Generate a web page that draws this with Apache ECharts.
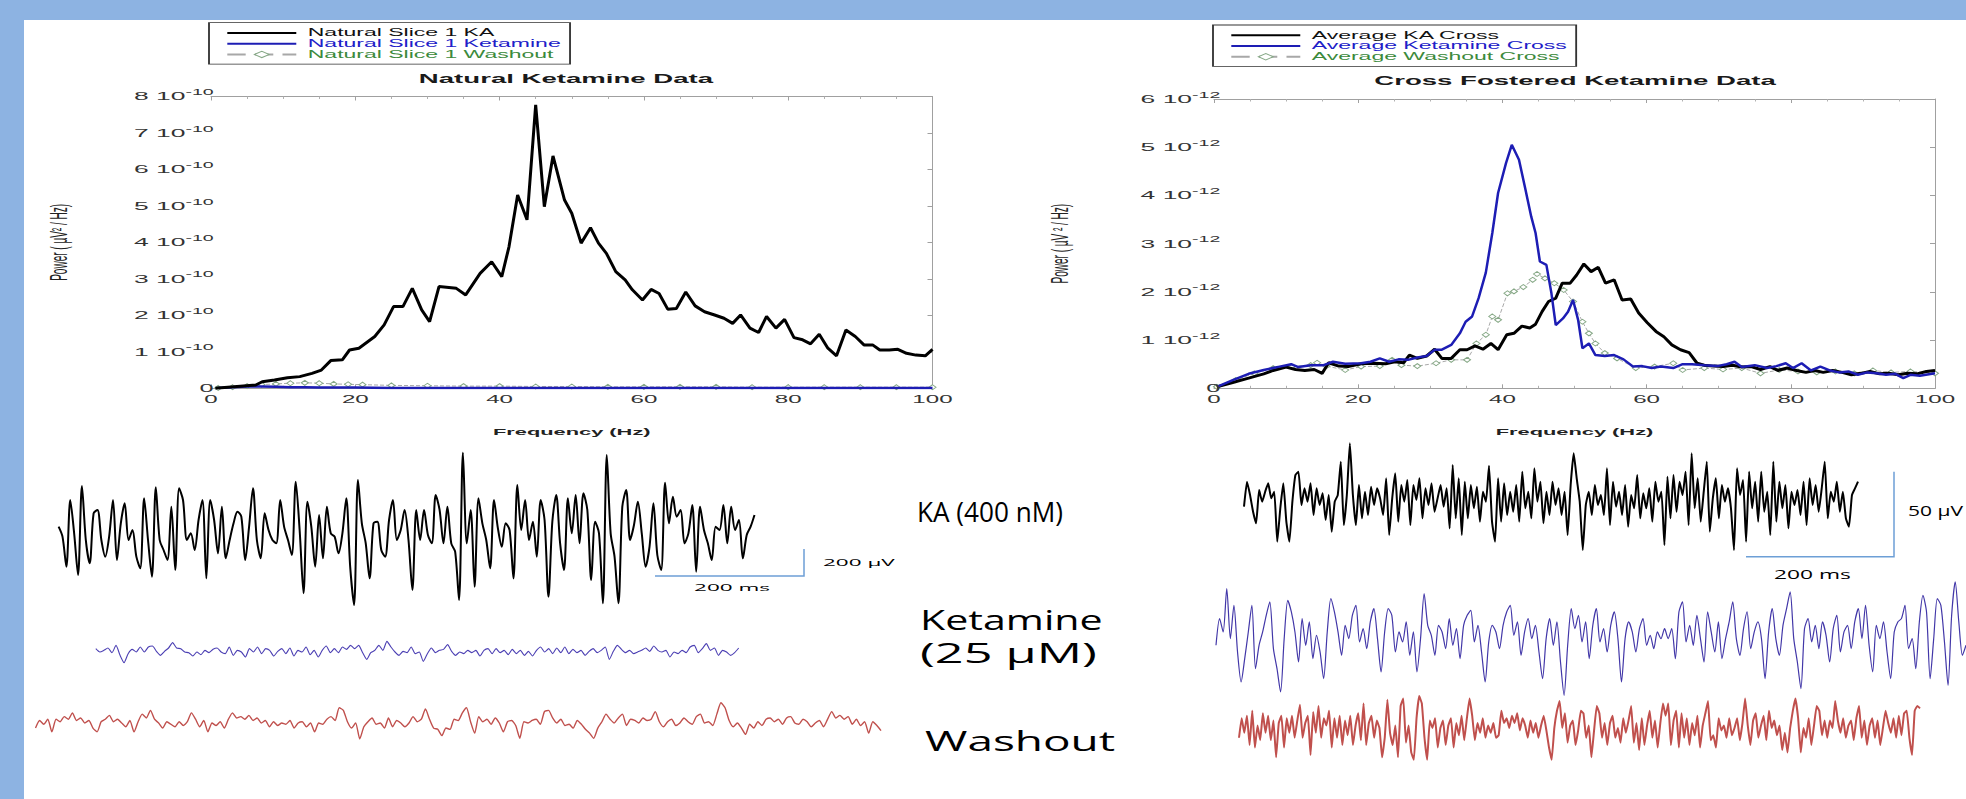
<!DOCTYPE html>
<html><head><meta charset="utf-8">
<script src="https://cdn.jsdelivr.net/npm/echarts@6/dist/echarts.min.js"></script>
<style>
html,body{margin:0;padding:0;width:1966px;height:799px;overflow:hidden;background:#fff}
#base{position:absolute;left:0;top:0;width:1966px;height:799px}
#txt{position:absolute;left:0;top:0;width:855px;height:799px;transform-origin:0 0;pointer-events:none}
</style></head><body>
<div id="base"></div><div id="txt"></div>
<script>
// ---------------- DATA ----------------
// Left spectrum: "Natural Ketamine Data" (power in units of 1e-10 uV^2/Hz)
const leftKAFreq = [0.6,3.6,6.2,7.1,8.8,10.6,12.3,14,15.3,16.6,18.2,19.2,20.5,22.7,24,25.3,26.6,27.9,29.2,30.3,31.6,34,35.3,37.3,38.9,40.3,41.3,42.5,43.8,45,46.2,47.4,49,50,51.3,52.6,53.7,54.8,56.1,57.4,58.4,59.8,61,62.1,63.3,64.5,65.8,67.1,68.4,69.8,71.1,72.3,73.4,74.7,75.9,77,78.3,79.5,80.8,82,83.1,84.3,85.5,86.7,88,89.3,90.5,91.7,92.7,94,95.2,96.4,97.7,99,100];
const leftKA = [0,0.05,0.09,0.18,0.23,0.29,0.32,0.41,0.5,0.76,0.78,1.05,1.1,1.42,1.74,2.24,2.24,2.74,2.15,1.83,2.79,2.74,2.56,3.15,3.47,3.06,3.88,5.3,4.62,7.77,4.98,6.37,5.16,4.8,3.98,4.4,3.98,3.7,3.2,2.97,2.7,2.42,2.71,2.6,2.17,2.19,2.64,2.26,2.1,2.01,1.92,1.78,2.01,1.65,1.53,1.97,1.65,1.89,1.39,1.33,1.22,1.48,1.1,0.89,1.6,1.42,1.19,1.19,1.05,1.05,1.07,0.96,0.91,0.89,1.07];
const leftKetFreq = [1,3,5,7,9,11,13,15,20,25,30,40,50,60,70,80,90,100];
const leftKet = [0.01,0.03,0.05,0.05,0.04,0.03,0.03,0.02,0.02,0.01,0.01,0.01,0.01,0.005,0.005,0.005,0.005,0.005];
const leftWashFreq = [1,3,5,7,9,11,13,15,17,19,21,25,30,35,40,45,50,55,60,65,70,75,80,85,90,95,100];
const leftWash = [0.01,0.03,0.06,0.1,0.12,0.14,0.15,0.14,0.12,0.11,0.1,0.08,0.07,0.06,0.06,0.05,0.05,0.04,0.04,0.04,0.04,0.03,0.03,0.03,0.03,0.03,0.03];

// Right spectrum: "Cross Fostered Ketamine Data" (power in units of 1e-12 uV^2/Hz)
const rightKAFreq = [0.4,2.6,4.8,6.9,8.2,10,11.3,12.6,13.9,15,15.9,17.3,18.6,20.4,22.1,23.8,25.1,26.3,27.1,28.2,29.5,30.6,31.6,32.9,34.1,35.1,36.2,37.3,38.4,39.4,40.6,41.6,42.7,43.8,44.6,45.5,46.4,47.4,48.3,49.4,50.3,51.3,52.3,53.3,54.3,55.5,56.6,57.8,58.9,60.1,61.3,62.4,63.5,64.7,65.9,67,68,69.3,70.6,71.9,73.2,74.5,75.8,77.1,78.2,79.5,80.8,82.1,83.3,84.5,85.8,87.1,88.4,89.7,91,92.3,93.6,94.9,96.2,97.5,98.8,100];
const rightKA = [0.03,0.12,0.21,0.3,0.37,0.44,0.39,0.37,0.39,0.31,0.53,0.46,0.45,0.51,0.52,0.51,0.55,0.53,0.69,0.62,0.67,0.81,0.62,0.62,0.8,0.8,0.88,0.81,0.93,0.8,1.11,1.14,1.29,1.25,1.33,1.59,1.8,1.87,2.18,2.18,2.35,2.58,2.42,2.51,2.18,2.25,1.83,1.85,1.56,1.36,1.18,1.07,0.9,0.8,0.74,0.52,0.48,0.46,0.45,0.48,0.44,0.45,0.39,0.45,0.37,0.42,0.37,0.33,0.37,0.33,0.37,0.33,0.28,0.31,0.35,0.3,0.31,0.28,0.31,0.3,0.35,0.37];
const rightKetFreq = [0.4,2.6,4.8,6.9,9.1,10.7,11.7,13.4,15.2,16.5,18.2,20.4,21.7,23,24.3,25.6,26.9,28.2,29.5,30.6,31.6,32.9,34.1,34.9,35.8,36.7,37.7,38.6,39.4,40.5,41.3,42.3,43.1,44,44.6,45.2,46.1,46.8,47.4,48.4,49.1,49.8,50.5,51.1,52,52.9,54.2,55.5,56.8,58.1,59.4,60.7,62,63.7,65,66.3,68,69.8,71.1,72.2,73.2,75,76.7,78,79.3,80.3,81.5,82.8,84.1,85.4,86.7,88,89.3,90.6,91.9,93.2,94.5,95.6,96.6,97.9,100];
const rightKet = [0.03,0.17,0.3,0.38,0.45,0.5,0.44,0.48,0.48,0.55,0.51,0.52,0.55,0.62,0.55,0.6,0.59,0.64,0.67,0.8,0.8,0.9,1.14,1.38,1.49,1.87,2.4,3.22,4.05,4.67,5.05,4.74,4.19,3.56,3.22,2.63,2.56,1.97,1.31,1.45,1.59,1.83,1.42,0.83,0.93,0.69,0.67,0.69,0.6,0.45,0.46,0.42,0.45,0.42,0.5,0.5,0.48,0.46,0.5,0.55,0.44,0.48,0.42,0.46,0.52,0.42,0.52,0.37,0.45,0.37,0.33,0.35,0.28,0.33,0.31,0.28,0.3,0.21,0.28,0.26,0.31];
const rightWashFreq = [0.4,3,5.6,8.2,10.8,13.4,14.3,15.6,18.2,20.4,23,24.7,26,28.2,30.8,32.9,35.1,36.4,37.7,38.6,39.4,40.7,41.6,42.9,44.2,44.8,45.9,47.2,48.5,49.8,51.1,52,52.9,54.2,55.9,58.5,61.1,63.7,65,68,70.6,73.2,75.8,78.4,81,83.6,86.2,88.8,91.4,93.9,96.6,100];
const rightWash = [0.03,0.17,0.31,0.42,0.45,0.48,0.53,0.46,0.38,0.45,0.46,0.59,0.48,0.46,0.52,0.59,0.59,0.93,1.11,1.49,1.42,1.97,2.01,2.1,2.25,2.37,2.28,2.18,2.04,1.8,1.38,1.14,0.93,0.73,0.62,0.42,0.45,0.52,0.38,0.42,0.39,0.42,0.31,0.38,0.35,0.33,0.35,0.31,0.37,0.33,0.35,0.31];

// Tick labels
const freqTicks = [0, 20, 40, 60, 80, 100];
const leftPowerTicks = [0, 1, 2, 3, 4, 5, 6, 7, 8];   // x 1e-10
const rightPowerTicks = [0, 1, 2, 3, 4, 5, 6];        // x 1e-12

const kaLeftTrace = [10,-20,-110,90,-10,-135,132,-30,-100,50,60,-30,-80,-20,90,-90,20,80,-30,0,-80,-115,95,-30,-140,128,-30,-60,-90,70,-120,125,90,-30,-10,-60,30,90,-145,90,30,-70,70,-85,-30,20,55,40,-90,10,125,-30,-85,50,0,-30,-40,90,10,-30,-75,145,0,-190,85,10,-110,45,-85,70,-10,-20,-70,-10,95,-110,-225,150,20,-40,-145,20,25,-60,-80,30,90,-30,0,60,-30,-180,60,-30,60,-15,-40,105,60,-40,70,-40,-65,-210,232,-40,60,-170,95,20,-30,-115,90,5,-50,20,0,-145,135,0,90,-30,25,-80,90,30,-200,25,105,-40,-120,95,-10,105,-40,110,60,-150,25,-10,-220,225,-10,-80,-220,70,120,-30,15,85,-10,-110,-50,80,-75,-120,142,20,100,40,60,-40,-10,75,-125,70,0,-40,-90,10,0,75,-40,70,0,30,-85,-15,10,45];
const ketLeftTrace = [10,0,5,12,-2,20,-10,-32,-5,8,0,15,0,15,18,2,-10,2,12,28,12,10,0,-2,-12,0,-8,5,-2,8,12,0,-5,15,-10,5,0,-15,10,0,15,-5,10,5,-12,2,10,-5,12,-12,5,0,15,-8,5,-15,5,18,-2,10,-2,15,8,20,10,20,-2,-22,-2,5,20,5,32,15,0,-10,2,-2,15,-5,0,-28,-5,12,-2,5,8,22,2,-10,0,-5,5,-2,5,-12,5,10,-5,10,-2,5,-8,8,-5,5,-10,2,-12,5,15,0,10,-5,12,-2,15,-5,8,-2,5,-10,2,10,-2,5,15,-22,2,20,8,-2,5,-5,0,5,12,2,18,5,0,5,-15,0,-5,5,-2,15,20,-2,10,25,5,12,-10,5,0,-10,-2,12];
const washLeftTrace = [-20,10,-5,15,-35,15,5,25,15,40,10,20,0,10,-20,-35,5,15,30,5,15,0,-15,10,-35,5,35,20,50,15,0,-20,5,-5,-15,5,-10,5,40,15,-15,10,-35,0,-10,5,-20,15,40,20,25,15,30,10,20,0,10,-15,5,-10,0,-5,10,-20,0,5,-15,0,-35,0,-5,15,25,10,60,50,5,-20,0,-63,-15,5,20,-5,0,-20,20,-15,10,0,-15,0,25,5,15,55,15,-20,-25,-50,-20,-25,15,10,40,60,5,-40,25,5,15,-5,20,0,-35,5,10,-10,-60,5,0,10,15,-5,45,50,20,0,15,-10,-5,-20,10,-5,-25,-40,-60,-20,5,35,15,0,20,35,-10,15,10,0,20,10,15,45,5,-15,5,15,-10,0,20,5,-5,25,35,0,5,-10,35,80,60,10,-15,0,-20,-45,-5,-20,5,-10,15,20,5,15,-5,20,25,0,-5,15,5,-15,0,10,-15,15,45,20,30,15,25,-5,15,-10,5,-40,5,-10,-30];
const kaRightTrace = [-15,60,20,-30,-65,35,0,30,55,10,30,-120,-20,55,-60,-120,0,80,90,-10,40,0,55,-40,40,-10,25,-55,20,-90,0,20,120,-70,20,175,20,-70,50,-50,30,-40,45,-10,40,10,-40,70,-100,10,85,-60,50,0,65,-70,50,5,70,-50,40,-10,55,-30,10,50,-15,40,-80,110,-50,70,-100,60,-50,50,-20,45,-60,30,0,108,-60,-120,70,-60,55,-40,30,-30,50,-60,90,-20,30,-50,100,0,60,-65,30,-40,60,-10,40,-40,30,-100,50,145,70,0,-145,-10,30,-40,50,-10,20,-40,100,-70,60,-15,30,-40,50,-75,20,-20,80,-50,25,-20,40,-60,60,0,30,-130,75,-50,80,-30,60,20,90,-70,145,-20,70,-60,30,120,-90,10,70,-50,50,0,40,-20,-145,100,20,65,-120,90,-20,60,-60,90,-30,30,-100,120,-60,60,-20,50,-80,30,-10,35,-40,60,-70,70,-10,50,-30,40,120,-50,30,0,60,-30,30,-50,-75,20,40,60];
const ketRightTrace = [-30,50,10,140,-10,90,-50,-140,-70,10,90,-100,-30,10,60,100,-40,-100,-170,-10,105,70,10,-80,50,-30,40,-70,0,-50,-130,10,110,70,10,-60,30,-10,60,90,-20,20,-40,40,80,-10,-110,10,80,60,-50,10,-20,40,-60,10,-110,-10,125,30,0,-60,30,10,-40,50,-30,20,-70,30,60,75,-20,30,-50,-140,-20,30,10,-40,30,70,90,0,40,-60,10,50,-10,30,-50,-130,-10,50,-30,40,-80,-180,-30,80,20,60,-20,40,-70,30,80,-20,20,-50,30,70,-10,-140,-10,40,10,-50,20,50,-30,0,-40,10,-10,20,-10,20,-70,70,100,-20,30,-30,60,-10,-80,70,10,-50,40,-70,-10,40,100,-10,-60,20,70,-40,10,40,-10,-130,10,80,-10,-60,30,80,130,-10,-80,-160,20,50,-20,30,-40,40,0,-80,20,60,-50,10,30,-40,40,80,-10,90,-30,-110,30,-10,40,-50,-130,10,40,50,90,-40,-10,-100,40,120,70,-130,-10,110,90,-20,-150,60,160,40,-60,-30];
const washRightTrace = [-50,30,-30,40,-80,60,-90,0,-60,50,-30,40,-60,20,-130,10,40,-90,30,-30,40,-50,20,85,-50,10,40,-120,55,-30,80,-50,30,0,60,-90,30,-50,40,-80,20,-40,40,-80,0,50,-60,90,-80,10,40,-50,20,-10,-130,-50,105,-30,-80,0,-130,80,110,-70,0,-110,-140,30,120,90,-50,-140,20,-10,30,-90,-10,20,-80,0,30,-90,10,-40,40,-60,30,110,40,-60,10,-30,30,-50,0,-30,10,-50,-40,60,10,30,-10,40,10,50,-20,30,0,-50,20,-30,10,-50,0,40,-20,-90,-140,-10,60,100,-10,50,-70,0,20,-80,-20,60,50,-50,0,-130,-20,80,50,-50,10,-80,10,40,-50,-10,-70,30,-30,20,80,-70,10,-100,30,-80,0,60,-50,20,-90,10,90,40,90,-80,20,60,-90,50,-50,30,-80,10,-40,40,-90,0,50,100,-60,-40,-90,30,-20,0,-50,30,-40,-10,30,-60,10,110,0,-80,20,50,-50,0,40,-60,60,-10,20,-40,0,-100,-30,-110,-10,60,110,30,-110,-10,-50,30,-80,0,80,60,-40,20,-50,20,-10,100,20,-30,30,-50,0,20,-60,30,80,-50,20,-80,0,30,-50,20,-80,-10,60,10,-30,30,-50,40,-40,50,60,-50,-120,60,80,70];

// Names / texts
const leftTitle = 'Natural Ketamine Data';
const rightTitle = 'Cross Fostered Ketamine Data';
const leftNames = ['Natural Slice 1 KA', 'Natural Slice 1 Ketamine', 'Natural Slice 1 Washout'];
const rightNames = ['Average KA Cross', 'Average Ketamine Cross', 'Average Washout Cross'];

// ---------------- LAYOUT / STYLE ----------------
const W = 1966, H = 799;
const SW = 855;                 // width of the horizontally stretched text layer
const S = W / SW;               // stretch of the pasted MATLAB figures
document.getElementById('txt').style.transform = 'scaleX(' + S + ')';
const FIG_FONT = 'Liberation Sans, Arial, Helvetica, sans-serif';
const SLIDE_FONT = 'Open Sans, Lato, sans-serif';
const LP = {left: 211, right: 932.5, top: 96.5, bottom: 388.3};
const RP = {left: 1214, right: 1935, top: 99, bottom: 388.3};
const L_SCALE = 1e-10, R_SCALE = 1e-12;
const BLACK = '#000000', BLUE = '#1d1db4', WASH_LINE = '#a8a8a8', WASH_MARK = '#86a886';

const pairs = (xs, ys, k) => xs.slice(0, Math.min(xs.length, ys.length)).map((x, i) => [x, ys[i] * k]);
const gridOf = (p, sc) => ({left: p.left / sc, top: p.top, width: (p.right - p.left) / sc, height: p.bottom - p.top});

// ---------------- BASE LAYER (lines, axes, traces, slide text) ----------------
function specX(gridIndex, position) {
  return {type: 'value', gridIndex, position, min: 0, max: 100, interval: 20,
    axisLine: {show: true, onZero: false, lineStyle: {color: '#a0a0a0', width: 1}},
    axisTick: {show: true, inside: true, length: 4, lineStyle: {color: '#a0a0a0'}},
    minorTick: {show: true, splitNumber: 4, length: 2.5, lineStyle: {color: '#b0b0b0'}},
    axisLabel: {show: false}, splitLine: {show: false}, minorSplitLine: {show: false}};
}
function specY(gridIndex, max, interval) {
  return {type: 'value', gridIndex, position: 'right', min: 0, max, interval,
    axisLine: {show: true, onZero: false, lineStyle: {color: '#a0a0a0', width: 1}},
    axisTick: {show: true, inside: true, length: 5, lineStyle: {color: '#a0a0a0'}},
    axisLabel: {show: false}, splitLine: {show: false}};
}
const traces = [
  {data: kaLeftTrace, x0: 58.6, x1: 754.5, base: 530, color: '#000000', width: 2, smooth: 0.3},
  {data: ketLeftTrace, x0: 95.8, x1: 738.7, base: 652, color: '#4b3fb3', width: 1.1, smooth: 0.2},
  {data: washLeftTrace, x0: 35.5, x1: 881, base: 747, color: '#c0504d', width: 1.4, smooth: 0.2},
  {data: kaRightTrace, x0: 1244, x1: 1858, base: 501.7, color: '#000000', width: 2, smooth: 0.15},
  {data: ketRightTrace, x0: 1216, x1: 1966, base: 635.3, color: '#4237a8', width: 1.2, smooth: 0.25},
  {data: washRightTrace, x0: 1239, x1: 1920, base: 752, color: '#c0504d', width: 2, smooth: 0.1}
];
const washSeries = (name, xi, yi, data) => ({type: 'line', name, xAxisIndex: xi, yAxisIndex: yi, data,
  symbol: 'diamond', symbolSize: [7, 5], showSymbol: true, z: 2,
  lineStyle: {color: WASH_LINE, width: 1, type: 'dashed'},
  itemStyle: {color: '#ffffff', borderColor: WASH_MARK, borderWidth: 1}});
const solidSeries = (name, xi, yi, data, color, width, z) => ({type: 'line', name, xAxisIndex: xi, yAxisIndex: yi, data,
  symbol: 'none', z, lineStyle: {color, width}, itemStyle: {color}});

const baseGrids = [gridOf(LP, 1), gridOf(RP, 1)];
const baseX = [specX(0, 'bottom'), specX(0, 'top'), specX(1, 'bottom'), specX(1, 'top')];
const baseY = [specY(0, 8 * L_SCALE, L_SCALE), specY(1, 6 * R_SCALE, R_SCALE)];
const baseSeries = [
  washSeries(leftNames[2], 0, 0, pairs(leftWashFreq, leftWash, L_SCALE)),
  solidSeries(leftNames[1], 0, 0, pairs(leftKetFreq, leftKet, L_SCALE), BLUE, 2.5, 3),
  solidSeries(leftNames[0], 0, 0, pairs(leftKAFreq, leftKA, L_SCALE), BLACK, 3, 4),
  washSeries(rightNames[2], 2, 1, pairs(rightWashFreq, rightWash, R_SCALE)),
  solidSeries(rightNames[0], 2, 1, pairs(rightKAFreq, rightKA, R_SCALE), BLACK, 3, 3),
  solidSeries(rightNames[1], 2, 1, pairs(rightKetFreq, rightKet, R_SCALE), BLUE, 2.5, 4)
];
traces.forEach((t, i) => {
  baseGrids.push({left: t.x0, top: t.base - 100, width: t.x1 - t.x0, height: 200});
  baseX.push({type: 'category', gridIndex: 2 + i, show: false, boundaryGap: false, data: t.data.map((_, j) => j)});
  baseY.push({type: 'value', gridIndex: 2 + i, show: false, min: -300, max: 300});
  baseSeries.push({type: 'line', xAxisIndex: 4 + i, yAxisIndex: 2 + i, data: t.data, symbol: 'none', clip: false,
    smooth: t.smooth, lineStyle: {color: t.color, width: t.width, join: 'round'}});
});

const slideText = (text, x, y, size, sx, align) => ({type: 'text', x, y, scaleX: sx, z: 50,
  style: {text, fontSize: size, fontFamily: SLIDE_FONT, fill: '#000000',
    align: align || 'left', verticalAlign: 'middle', textAlign: align || 'left', textVerticalAlign: 'middle'}});
const baseGraphic = [
  {type: 'rect', z: -10, silent: true, shape: {x: 24, y: 20, width: W - 24, height: H - 20}, style: {fill: '#ffffff'}},
  {type: 'polyline', z: 40, shape: {points: [[655, 576], [804, 576], [804, 549]]}, style: {stroke: '#6d9fd6', lineWidth: 1.5, fill: null}},
  {type: 'polyline', z: 40, shape: {points: [[1746, 556.7], [1894, 556.7], [1894, 471.7]]}, style: {stroke: '#6d9fd6', lineWidth: 1.5, fill: null}},
  slideText('KA (400 nM)', 917, 512, 27, 0.97),
  slideText('Ketamine', 920, 619, 28, 1.47),
  slideText('(25 µM)', 920, 652, 28, 1.8),
  slideText('Washout', 925, 740, 28, 1.64),
  slideText('200 µV', 823, 563, 9, 2.5),
  slideText('200 ms', 732, 588, 9, 2.5, 'center'),
  slideText('50 µV', 1908, 511, 14, 1.5),
  slideText('200 ms', 1812.5, 574, 13, 1.75, 'center')
];

const base = echarts.init(document.getElementById('base'), null, {renderer: 'svg', width: W, height: H});
base.setOption({
  animation: false,
  backgroundColor: '#8db3e2',
  textStyle: {fontFamily: FIG_FONT},
  grid: baseGrids, xAxis: baseX, yAxis: baseY, series: baseSeries, graphic: baseGraphic
});

// ---------------- STRETCHED TEXT LAYER (titles, tick labels, legends) ----------------
const sciFormatter = (scale, exp) => v => {
  const k = Math.round(v / scale);
  return k === 0 ? '{z|0}' : '{m|' + k + ' 10}{e|-' + exp + '}';
};
const sciRich = {
  z: {fontSize: 11, color: '#333333', fontFamily: FIG_FONT, lineHeight: 18, verticalAlign: 'middle'},
  m: {fontSize: 11.5, color: '#333333', fontFamily: FIG_FONT, lineHeight: 18, verticalAlign: 'middle'},
  e: {fontSize: 8.5, color: '#333333', fontFamily: FIG_FONT, lineHeight: 8, verticalAlign: 'top'}
};
const txtX = (gridIndex) => ({type: 'value', gridIndex, min: 0, max: 100, interval: 20,
  axisLine: {show: false}, axisTick: {show: false}, splitLine: {show: false},
  axisLabel: {margin: 6, fontSize: 10.5, color: '#333333', fontFamily: FIG_FONT,
    formatter: v => (freqTicks.indexOf(v) >= 0 ? String(v) : '')},
  name: 'Frequency (Hz)', nameLocation: 'middle', nameGap: 39,
  nameTextStyle: {fontSize: 9.5, fontWeight: 'bold', color: '#222222', fontFamily: FIG_FONT}});
const txtY = (gridIndex, ticks, scale, exp, name, margin, gap) => ({type: 'value', gridIndex,
  min: 0, max: ticks[ticks.length - 1] * scale, interval: scale,
  axisLine: {show: false}, axisTick: {show: false}, splitLine: {show: false},
  axisLabel: {margin, align: 'right', fontSize: 11, color: '#333333', fontFamily: FIG_FONT, formatter: sciFormatter(scale, exp), rich: sciRich},
  name, nameLocation: 'middle', nameRotate: 90, nameGap: gap,
  nameTextStyle: {fontSize: 10, color: '#222222', fontFamily: FIG_FONT}});
const dummy = (name, xi, yi, kind) => {
  if (kind === 2) return {type: 'line', name, xAxisIndex: xi, yAxisIndex: yi, data: [], symbol: 'diamond', symbolSize: 5,
    lineStyle: {color: WASH_LINE, width: 1, type: 'dashed'}, itemStyle: {color: '#ffffff', borderColor: WASH_MARK, borderWidth: 0.8}};
  const c = kind === 0 ? BLACK : BLUE;
  return {type: 'line', name, xAxisIndex: xi, yAxisIndex: yi, data: [], symbol: 'none',
    lineStyle: {color: c, width: 1.8}, itemStyle: {color: c}};
};
const legendColors = ['#111111', '#2020c8', '#3c8a3c'];
const legendOf = (names, leftFull, topFull) => ({
  orient: 'vertical', left: leftFull / S, top: topFull, padding: [5, 4, 4.3, 16 / S],
  itemWidth: 30, itemHeight: 8, itemGap: 0, selectedMode: false,
  borderColor: '#333333', borderWidth: 0.8, backgroundColor: '#ffffff',
  textStyle: {fontSize: 10, lineHeight: 10.7, fontFamily: FIG_FONT},
  data: names.map((n, i) => ({name: n, textStyle: {color: legendColors[i]},
    itemStyle: i < 2 ? {opacity: 0} : {color: '#ffffff', borderColor: WASH_MARK, borderWidth: 0.8}}))
});

const txt = echarts.init(document.getElementById('txt'), null, {renderer: 'svg', width: SW, height: H});
txt.setOption({
  animation: false,
  backgroundColor: 'transparent',
  textStyle: {fontFamily: FIG_FONT},
  title: [
    {text: leftTitle, left: 566 / S, top: 73, textAlign: 'center', padding: 0,
      textStyle: {fontSize: 12, fontWeight: 'bold', color: '#1a1a1a', fontFamily: FIG_FONT}},
    {text: rightTitle, left: 1575 / S, top: 75, textAlign: 'center', padding: 0,
      textStyle: {fontSize: 12, fontWeight: 'bold', color: '#1a1a1a', fontFamily: FIG_FONT}}
  ],
  legend: [legendOf(leftNames, 209, 22.7), legendOf(rightNames, 1213, 25)],
  grid: [gridOf(LP, S), gridOf(RP, S)],
  xAxis: [txtX(0), txtX(1)],
  yAxis: [
    txtY(0, leftPowerTicks, L_SCALE, 10, 'Power ( µV² / Hz)', 18 / S - 9, 61),
    txtY(1, rightPowerTicks, R_SCALE, 12, 'Power ( µV ² / Hz)', 19 / S - 11, 62)
  ],
  series: [
    dummy(leftNames[0], 0, 0, 0), dummy(leftNames[1], 0, 0, 1), dummy(leftNames[2], 0, 0, 2),
    dummy(rightNames[0], 1, 1, 0), dummy(rightNames[1], 1, 1, 1), dummy(rightNames[2], 1, 1, 2)
  ]
});
</script>
</body></html>
